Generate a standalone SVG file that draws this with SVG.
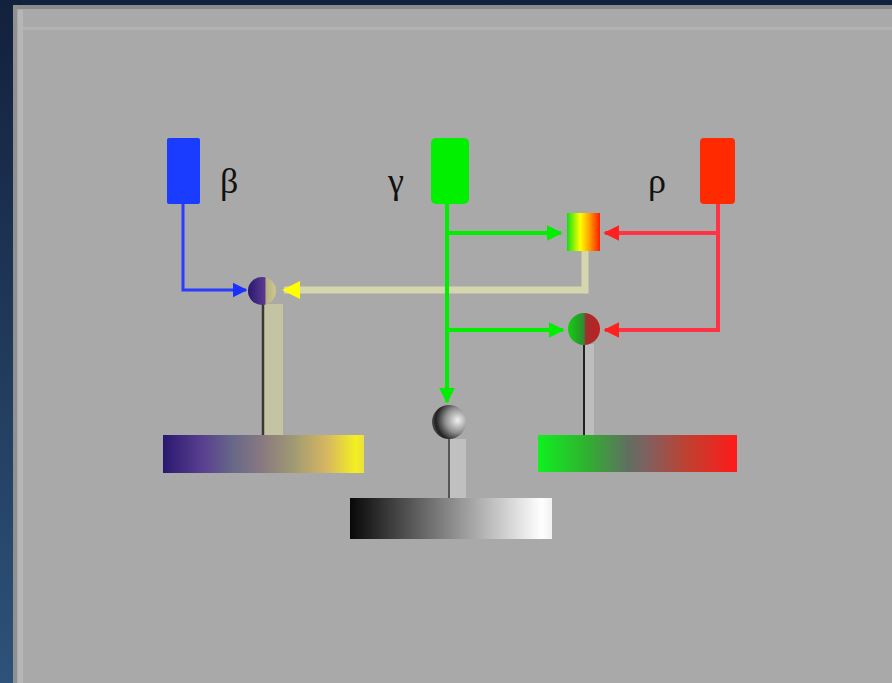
<svg xmlns="http://www.w3.org/2000/svg" width="892" height="683" viewBox="0 0 892 683">
<defs>
<linearGradient id="bg" x1="0" y1="0" x2="0" y2="1"><stop offset="0" stop-color="#12213c"/><stop offset="1" stop-color="#2e527a"/></linearGradient>
<linearGradient id="mix" x1="0" y1="0" x2="1" y2="0"><stop offset="0" stop-color="#10e010"/><stop offset="0.4" stop-color="#ffff00"/><stop offset="0.7" stop-color="#ff9900"/><stop offset="1" stop-color="#ff1a00"/></linearGradient>
<linearGradient id="gr" x1="0" y1="0" x2="1" y2="0"><stop offset="0" stop-color="#10d010"/><stop offset="0.5" stop-color="#308a30"/><stop offset="0.55" stop-color="#a03030"/><stop offset="1" stop-color="#c02020"/></linearGradient>
<linearGradient id="pb" x1="0" y1="0" x2="1" y2="0"><stop offset="0" stop-color="#2a1870"/><stop offset="0.6" stop-color="#5a3a90"/><stop offset="0.65" stop-color="#b8b080"/><stop offset="1" stop-color="#d0c890"/></linearGradient>
<radialGradient id="sph" cx="0.75" cy="0.45" r="0.8"><stop offset="0" stop-color="#f0f0f0"/><stop offset="0.45" stop-color="#909090"/><stop offset="0.8" stop-color="#202020"/><stop offset="1" stop-color="#606060"/></radialGradient>
<linearGradient id="bar1" x1="0" y1="0" x2="1" y2="0"><stop offset="0" stop-color="#2a1870"/><stop offset="0.2" stop-color="#5a4090"/><stop offset="0.35" stop-color="#686888"/><stop offset="0.5" stop-color="#8a7a80"/><stop offset="0.65" stop-color="#a09a72"/><stop offset="0.82" stop-color="#d8b860"/><stop offset="0.96" stop-color="#f4f020"/><stop offset="1" stop-color="#e8e040"/></linearGradient>
<linearGradient id="bar2" x1="0" y1="0" x2="1" y2="0"><stop offset="0" stop-color="#080808"/><stop offset="0.5" stop-color="#8a8a8a"/><stop offset="0.95" stop-color="#ffffff"/><stop offset="1" stop-color="#f0f0f0"/></linearGradient>
<linearGradient id="bar3" x1="0" y1="0" x2="1" y2="0"><stop offset="0" stop-color="#10f020"/><stop offset="0.25" stop-color="#30b030"/><stop offset="0.45" stop-color="#607060"/><stop offset="0.55" stop-color="#806060"/><stop offset="0.75" stop-color="#c04030"/><stop offset="1" stop-color="#ff1a1a"/></linearGradient>
<marker id="aB" viewBox="0 0 10 10" refX="9" refY="5" markerWidth="5" markerHeight="5" orient="auto"><path d="M0,0 L10,5 L0,10 z" fill="#1a30ff"/></marker>
<marker id="aG" viewBox="0 0 10 10" refX="9" refY="5" markerWidth="4" markerHeight="4" orient="auto"><path d="M0,0 L10,5 L0,10 z" fill="#00ee00"/></marker>
<marker id="aR" viewBox="0 0 10 10" refX="9" refY="5" markerWidth="4" markerHeight="4" orient="auto"><path d="M0,0 L10,5 L0,10 z" fill="#ff2020"/></marker>
<marker id="aY" viewBox="0 0 10 10" refX="9" refY="5" markerWidth="2.6" markerHeight="2.6" orient="auto"><path d="M0,0 L10,5 L0,10 z" fill="#ffff00"/></marker>
</defs>
<style>
.lbl{font-family:"Liberation Serif","DejaVu Serif",serif;font-size:36px;fill:#111}
.cg{stroke:#00ee00;stroke-width:4;fill:none}
.cr{stroke:#ff3344;stroke-width:4;fill:none}
</style>
<rect width="892" height="683" fill="url(#bg)"/>
<rect x="13" y="5" width="879" height="678" fill="#a9a9a9"/>
<rect x="13" y="5" width="879" height="4" fill="#8c8c8c"/>
<rect x="13" y="5" width="4" height="678" fill="#909090"/>
<rect x="18" y="10" width="5" height="673" fill="#b6b6b6"/>
<rect x="23" y="27" width="869" height="3" fill="#b2b2b2"/>
<g id="connectors">
<path d="M183,204 V290 H246" stroke="#2a3cff" stroke-width="3" fill="none" marker-end="url(#aB)"/>
<path d="M585,251 V290 H284" stroke="#d6d6ae" stroke-width="7" fill="none" marker-end="url(#aY)"/>
<path class="cg" d="M447,204 V402" marker-end="url(#aG)"/>
<path class="cg" d="M447,233 H561" marker-end="url(#aG)"/>
<path class="cg" d="M447,330 H563" marker-end="url(#aG)"/>
<path class="cr" d="M718,204 V330"/>
<path class="cr" d="M720,233 H605" marker-end="url(#aR)"/>
<path class="cr" d="M720,330 H605" marker-end="url(#aR)"/>
<rect x="263" y="304" width="20" height="131" fill="#c4c4a4"/>
<line x1="263" y1="304" x2="263" y2="435" stroke="#3a3a2a" stroke-width="2.5"/>
<rect x="449" y="439" width="17" height="59" fill="#c0c0c0"/>
<line x1="449" y1="439" x2="449" y2="498" stroke="#555" stroke-width="2"/>
<rect x="584" y="344" width="10" height="91" fill="#bdbdbd"/>
<line x1="584" y1="344" x2="584" y2="435" stroke="#222" stroke-width="2"/>
</g>
<g id="beta">
<rect x="167" y="138" width="33" height="66" rx="2" fill="#1a3cff"/>
<text class="lbl" x="220" y="193">β</text>
</g>
<g id="gamma">
<rect x="431" y="138" width="38" height="66" rx="5" fill="#00f000"/>
<text class="lbl" x="388" y="193">γ</text>
</g>
<g id="rho">
<rect x="700" y="138" width="35" height="66" rx="4" fill="#ff2a00"/>
<text class="lbl" x="648" y="193">ρ</text>
</g>
<g id="mixRect">
<rect x="567" y="213" width="33" height="38" fill="url(#mix)"/>
</g>
<g id="combinePB">
<circle cx="262" cy="291" r="14" fill="url(#pb)"/>
</g>
<g id="combineGR">
<circle cx="584" cy="329" r="16" fill="url(#gr)"/>
</g>
<g id="sphere">
<circle cx="449" cy="422" r="17" fill="url(#sph)"/>
</g>
<g id="bar1"><rect x="163" y="435" width="201" height="38" fill="url(#bar1)"/></g>
<g id="bar2"><rect x="350" y="498" width="202" height="41" fill="url(#bar2)"/></g>
<g id="bar3"><rect x="538" y="435" width="199" height="37" fill="url(#bar3)"/></g>
</svg>
